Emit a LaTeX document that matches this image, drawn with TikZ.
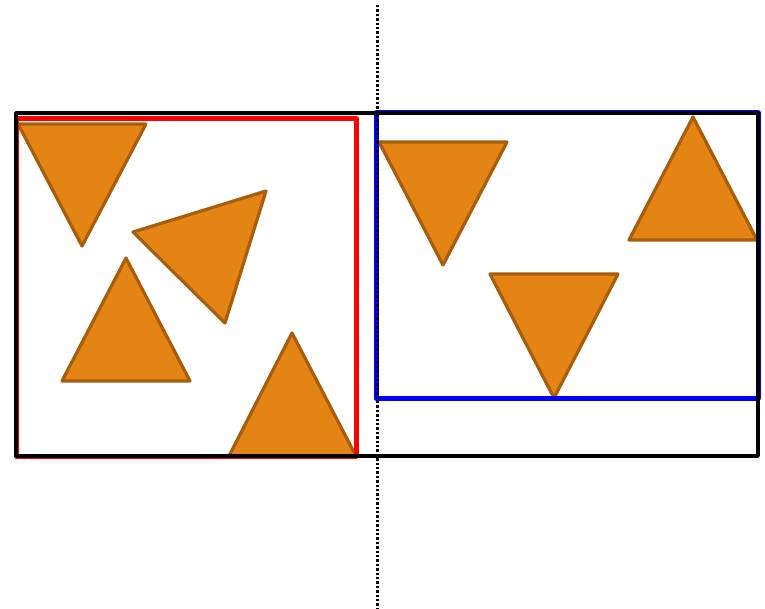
\documentclass[tikz,border=0pt]{standalone}
\begin{document}
\begin{tikzpicture}[x=1pt,y=-1pt,
  tri/.style={fill={rgb,255:red,228;green,132;blue,20}, draw={rgb,255:red,166;green,94;blue,12}, line width=3.2pt, line join=round},
  frame/.style={line width=#1, line join=round, line cap=round}]
\useasboundingbox (0,0) rectangle (765,609);
\fill[white] (0,0) rectangle (765,609);
% triangles
\draw[tri] (18,124) -- (146,124) -- (82,246) -- cycle;
\draw[tri] (133,232) -- (266,191) -- (225,323) -- cycle;
\draw[tri] (126,258) -- (62,381) -- (190,381) -- cycle;
\draw[tri] (292,333) -- (229,456) -- (356,456) -- cycle;
\draw[tri] (379,142) -- (507,142) -- (443,265) -- cycle;
\draw[tri] (490,274) -- (618,274) -- (554,398) -- cycle;
\draw[tri] (693,117) -- (629,240) -- (757,240) -- cycle;
% frames
\draw[frame=5pt, red] (16,118.5) rectangle (356.5,456);
\draw[frame=5pt, blue] (376,113) rectangle (758,398);
\draw[frame=3.4pt, black] (16,113) rectangle (758,456);
% dotted divider
\coordinate (dtop) at (377,5);
\coordinate (dbot) at (377,609);
\draw[line width=3pt, dash pattern=on 2.4pt off 2pt] (dtop) -- (dbot);
\end{tikzpicture}
\end{document}
